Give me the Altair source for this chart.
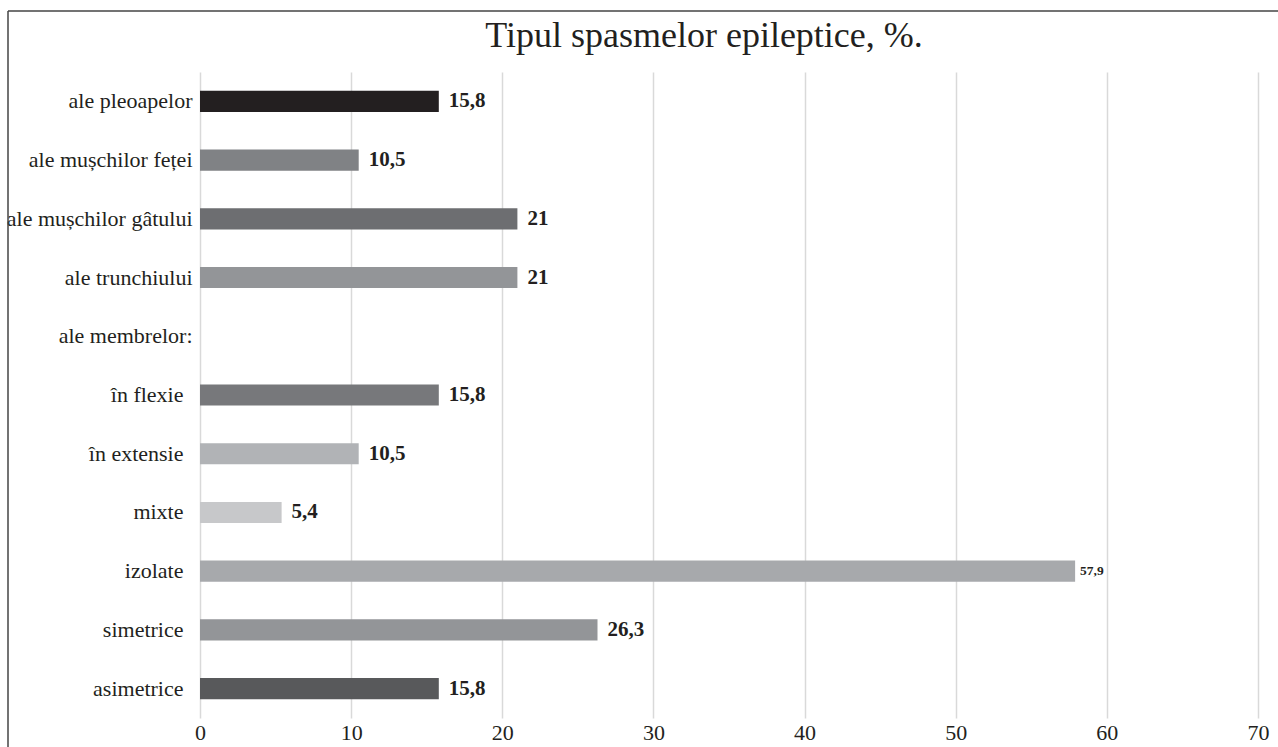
import altair as alt
import pandas as pd

# Categories, top to bottom, and their shares in percent (None = group header)
categories = [
    "ale pleoapelor",
    "ale mușchilor feței",
    "ale mușchilor gâtului",
    "ale trunchiului",
    "ale membrelor:",
    "în flexie",
    "în extensie",
    "mixte",
    "izolate",
    "simetrice",
    "asimetrice",
]
values = [15.8, 10.5, 21, 21, None, 15.8, 10.5, 5.4, 57.9, 26.3, 15.8]
bar_colors = [
    "#231f20", "#808285", "#6d6e71", "#939598", "#ffffff",
    "#77787b", "#b1b3b6", "#c7c8ca", "#a7a9ac", "#939598", "#58595b",
]
x_ticks = [0, 10, 20, 30, 40, 50, 60, 70]
title_text = "Tipul spasmelor epileptice, %."

# Sub-items under "ale membrelor:" are set a little further from the axis
sub_items = ["în flexie", "în extensie", "mixte", "izolate", "simetrice", "asimetrice"]

df = pd.DataFrame({"categorie": categories, "procent": values})

SERIF = "Liberation Serif"
INK = "#231f20"
W, H = 1058, 646


def js_list(items):
    return "[" + ", ".join("'" + s + "'" for s in items) + "]"


y_enc = alt.Y(
    "categorie:N",
    sort=categories,
    scale=alt.Scale(domain=categories, paddingInner=0.64, paddingOuter=0.32),
    axis=alt.Axis(
        title=None, ticks=False, domain=False, grid=False,
        labelFont=SERIF, labelFontSize=22, labelColor=INK, labelLimit=300,
        labelPadding={
            "condition": {
                "test": "indexof(" + js_list(sub_items) + ", datum.value) >= 0",
                "value": 17,
            },
            "value": 8,
        },
    ),
)
x_enc = alt.X(
    "procent:Q",
    scale=alt.Scale(domain=[0, 70], nice=False),
    axis=alt.Axis(
        title=None, values=x_ticks, ticks=False, domain=False, grid=True,
        gridColor="#d9d9d9", gridWidth=1.5,
        labelFont=SERIF, labelFontSize=22, labelColor=INK, labelPadding=4,
        labelFlush=False,
    ),
)

base = alt.Chart(df).transform_filter("isValid(datum.procent)")

bars = base.mark_bar().encode(
    x=x_enc,
    y=y_enc,
    color=alt.Color(
        "categorie:N",
        scale=alt.Scale(domain=categories, range=bar_colors),
        legend=None,
    ),
)

labelled = base.transform_calculate(
    eticheta="replace(toString(datum.procent), '.', ',')"
)

labels_big = labelled.transform_filter("datum.procent < 50").mark_text(
    align="left", baseline="middle", dx=10, font=SERIF, fontSize=21,
    fontWeight="bold", color=INK,
).encode(x=x_enc, y=y_enc, text="eticheta:N")

labels_small = labelled.transform_filter("datum.procent >= 50").mark_text(
    align="left", baseline="middle", dx=5, font=SERIF, fontSize=13.5,
    fontWeight="bold", color=INK,
).encode(x=x_enc, y=y_enc, text="eticheta:N")

title = alt.Chart(pd.DataFrame({"t": [title_text]})).mark_text(
    font=SERIF, fontSize=36, align="center", baseline="alphabetic", color=INK,
).encode(text="t:N", x=alt.value(504), y=alt.value(-25))

# Frame around the figure (left and top edges)
frame_df = pd.DataFrame({"k": [0]})
frame_left = alt.Chart(frame_df).mark_rule(color="#444444", strokeWidth=1.5).encode(
    x=alt.value(-192), x2=alt.value(-192), y=alt.value(-61), y2=alt.value(700)
)
frame_top = alt.Chart(frame_df).mark_rule(color="#444444", strokeWidth=1.5).encode(
    x=alt.value(-192), x2=alt.value(1100), y=alt.value(-61)
)

chart = (
    alt.layer(bars, labels_big, labels_small, title, frame_left, frame_top)
    .properties(
        width=W,
        height=H,
        autosize=alt.AutoSizeParams(type="none"),
        padding={"left": 200, "top": 72, "right": 20, "bottom": 29},
        background="white",
    )
    .configure_view(stroke=None)
    .configure_axis(labelFont=SERIF, labelColor=INK)
    .configure_text(font=SERIF)
)

chart.save("out.html", embed_options={"renderer": "svg", "actions": False})
